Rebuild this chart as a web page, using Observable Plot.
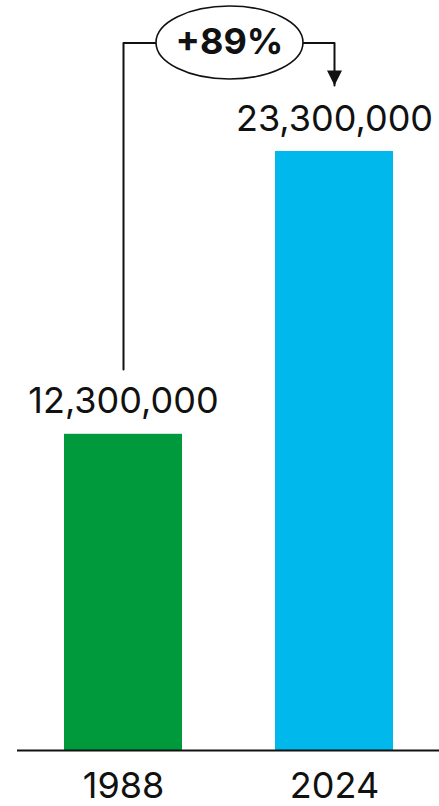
<!DOCTYPE html>
<html>
<head>
<meta charset="utf-8">
<script src="https://cdn.jsdelivr.net/npm/d3@7"></script>
<script src="https://cdn.jsdelivr.net/npm/@observablehq/plot@0.6"></script>
<style>
  html, body { margin: 0; padding: 0; background: #fff; }
  #chart { width: 439px; height: 806px; }
</style>
</head>
<body>
<div id="chart"></div>
<script>
// ---- data ----
const years = ["1988", "2024"];
const values = [12300000, 23300000];
const colors = ["#009a3d", "#00b8eb"];
const changeLabel = "+89%";

// annotation connector (in data units of the y scale)
const connectorStart = 14820000;
const connectorLevel = 27520000;
const arrowTip = 25870000;

const data = years.map((year, i) => ({year, value: values[i]}));
const connector = [
  {year: years[0], y: connectorStart},
  {year: years[0], y: connectorLevel},
  {year: years[1], y: connectorLevel},
  {year: years[1], y: arrowTip}
];

// custom symbols
const ellipseSymbol = {
  draw(ctx) {
    const rx = 73.5, ry = 36.5, k = 0.5523;
    ctx.moveTo(rx, 0);
    ctx.bezierCurveTo(rx, ry * k, rx * k, ry, 0, ry);
    ctx.bezierCurveTo(-rx * k, ry, -rx, ry * k, -rx, 0);
    ctx.bezierCurveTo(-rx, -ry * k, -rx * k, -ry, 0, -ry);
    ctx.bezierCurveTo(rx * k, -ry, rx, -ry * k, rx, 0);
    ctx.closePath();
  }
};
const arrowSymbol = {
  draw(ctx) {
    ctx.moveTo(-7.5, -15);
    ctx.lineTo(7.5, -15);
    ctx.lineTo(0, 0);
    ctx.closePath();
  }
};

const fmt = d3.format(",");

const chart = Plot.plot({
  width: 439,
  height: 806,
  marginTop: 151,
  marginBottom: 56,
  marginLeft: 17,
  marginRight: 0,
  style: {
    fontFamily: "Inter, 'Liberation Sans', Arial, sans-serif",
    color: "#111",
    background: "#fff",
    overflow: "visible"
  },
  x: {domain: years, paddingInner: 0.443, paddingOuter: 0.217, axis: null},
  y: {domain: [0, d3.max(values)], axis: null},
  color: {domain: years, range: colors},
  marks: [
    Plot.barY(data, {x: "year", y: "value", fill: "year"}),
    Plot.ruleY([0], {stroke: "#111", strokeWidth: 2}),
    Plot.text(data, {
      x: "year", y: "value", text: d => fmt(d.value),
      dy: -21, lineAnchor: "bottom", fontSize: 36, fill: "#111"
    }),
    Plot.axisX({tickSize: 0, tickPadding: 22, fontSize: 36, label: null, fill: "#111"}),
    Plot.line(connector, {x: "year", y: "y", stroke: "#111", strokeWidth: 2, curve: "linear"}),
    Plot.dot([years[1]], {x: d => d, y: () => arrowTip, symbol: arrowSymbol, fill: "#111", stroke: null, r: 5}),
    Plot.dot([changeLabel], {
      x: () => years[0], y: () => connectorLevel, dx: 106, dy: -0.5,
      symbol: ellipseSymbol, fill: "#fff", stroke: "#111", strokeWidth: 1.6, r: 5
    }),
    Plot.text([changeLabel], {
      x: () => years[0], y: () => connectorLevel, dx: 106, dy: -1,
      text: d => d, fontSize: 36, fontWeight: "bold", fill: "#111", lineAnchor: "middle"
    })
  ]
});
document.getElementById("chart").appendChild(chart);
</script>
</body>
</html>
